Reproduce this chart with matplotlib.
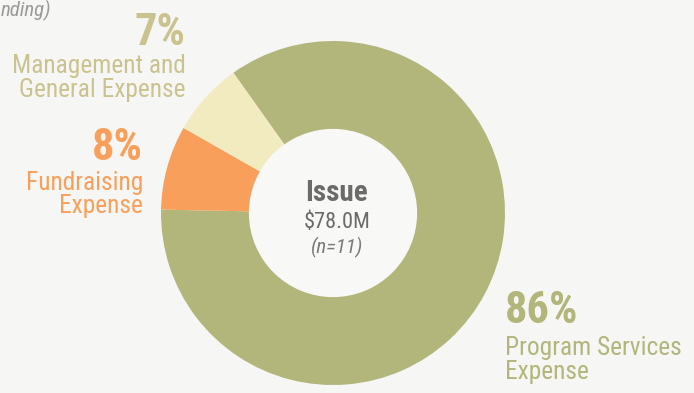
import matplotlib
matplotlib.use("Agg")
from matplotlib import pyplot as plt
from matplotlib import font_manager

# expense split
labels = ["Program Services\nExpense", "Fundraising\nExpense", "Management and\nGeneral Expense"]
shares = [86, 8, 7]
colors = ["#b2b67b", "#f8a05b", "#f2ebbf"]
text_colors = ["#b2b67b", "#f8a05b", "#cbc38f"]

center_title = "Issue"
center_total = "$78.0M"
center_n = "(n=11)"

bg = "#f6f6f4"

# narrow face if there is one, else Roboto
names = {f.name for f in font_manager.fontManager.ttflist}
fam = ['Roboto', 'DejaVu Sans']
for cand in ['Roboto Condensed', 'Liberation Sans Narrow']:
    if cand in names:
        fam = [cand, 'Roboto', 'DejaVu Sans']
        break
plt.rcParams['font.family'] = fam

fig = plt.figure(figsize=(6.94, 3.93), dpi=100)
fig.patch.set_facecolor(bg)
ax = fig.add_axes([0, 0, 1, 1])
ax.set_facecolor(bg)

H = 393
cx, cy, R = 333, H - 213, 172
ax.pie(shares, colors=colors, startangle=125.4, counterclock=False,
       center=(cx, cy), radius=R, frame=True,
       wedgeprops=dict(width=R * 0.515, linewidth=0))
ax.set_xlim(0, 694)
ax.set_ylim(0, 393)
ax.set_aspect('equal')
ax.axis('off')

# inner disc
ax.add_patch(plt.Circle((cx, cy), R * 0.485, color="#f8f8f6", zorder=3))

pct = [f"{s}%" for s in shares]
big = 32
small = 18.3

# program services, right side
ax.text(505, H - 323, pct[0], color=text_colors[0], fontsize=big, fontweight='bold', ha='left', va='baseline')
ax.text(505, H - 355, "Program Services", color=text_colors[0], fontsize=small, ha='left', va='baseline')
ax.text(505, H - 379, "Expense", color=text_colors[0], fontsize=small, ha='left', va='baseline')

# fundraising, left
ax.text(143, H - 160, pct[1], color=text_colors[1], fontsize=big, fontweight='bold', ha='right', va='baseline')
ax.text(143, H - 190, "Fundraising", color=text_colors[1], fontsize=small, ha='right', va='baseline')
ax.text(143, H - 213, "Expense", color=text_colors[1], fontsize=small, ha='right', va='baseline')

# management, top left
ax.text(186, H - 45, pct[2], color=text_colors[2], fontsize=big, fontweight='bold', ha='right', va='baseline')
ax.text(186, H - 73, "Management and", color=text_colors[2], fontsize=small, ha='right', va='baseline')
ax.text(186, H - 97, "General Expense", color=text_colors[2], fontsize=small, ha='right', va='baseline')

# centre
ax.text(337, H - 201, center_title, color="#6b6b69", fontsize=21, fontweight='bold', ha='center', va='baseline', zorder=4)
ax.text(337, H - 228, center_total, color="#6b6b69", fontsize=16, ha='center', va='baseline', zorder=4)
ax.text(337, H - 253, center_n, color="#7a7a78", fontsize=15, style='italic', ha='center', va='baseline', zorder=4)

ax.text(1, H - 16, "nding)", color="#9a9a98", fontsize=15, style='italic', ha='left', va='baseline')

plt.savefig("out.png", dpi=100, facecolor=bg)
